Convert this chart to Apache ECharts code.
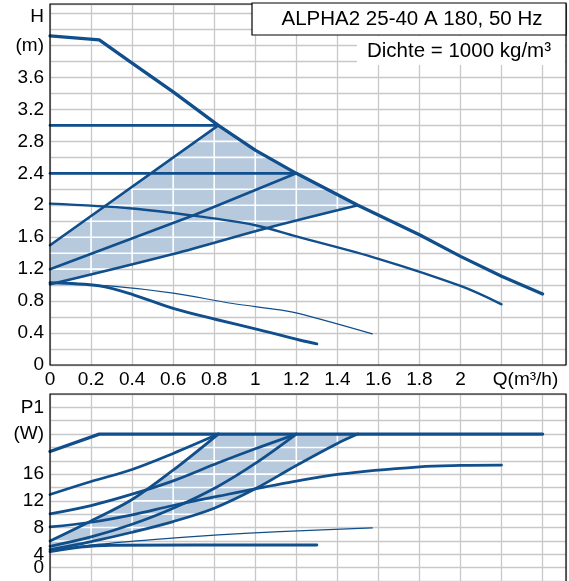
<!DOCTYPE html>
<html>
<head>
<meta charset="utf-8">
<script src="https://cdn.jsdelivr.net/npm/echarts@6/dist/echarts.min.js"></script>
<style>html,body{margin:0;padding:0;background:#fff}#c{width:569px;height:581px}</style>
</head>
<body>
<div id="c"></div>
<script>
// ---------- data ----------
const titleText = 'ALPHA2 25-40 A 180, 50 Hz';
const densityText = 'Dichte = 1000 kg/m³';

const qTickValues = [0, 0.2, 0.4, 0.6, 0.8, 1, 1.2, 1.4, 1.6, 1.8, 2, 2.2];
const qTickLabels = ['0', '0.2', '0.4', '0.6', '0.8', '1', '1.2', '1.4', '1.6', '1.8', '2', 'Q(m³/h)'];
const hTickValues = [0, 0.4, 0.8, 1.2, 1.6, 2, 2.4, 2.8, 3.2, 3.6, 4.0, 4.4];
const hTickLabels = ['0', '0.4', '0.8', '1.2', '1.6', '2', '2.4', '2.8', '3.2', '3.6', '(m)', 'H'];
const pTickValues = [0, 4, 8, 12, 16, 22, 26];
const pTickLabels = ['0', '4', '8', '12', '16', '(W)', 'P1'];

// head curves  [Q, H]
const hMax     = [[0,4.12],[0.24,4.07],[0.4,3.78],[0.6,3.42],[0.82,3.0],[1.0,2.69],[1.2,2.4],[1.5,2.0],[1.8,1.63],[2.0,1.36],[2.2,1.11],[2.4,0.89]];
const hCP30    = [[0,3.0],[0.82,3.0]];
const hCP24    = [[0,2.4],[1.2,2.4]];
const hProp15  = [[0,1.5],[0.82,3.0]];
const hProp12  = [[0,1.2],[0.7,1.875],[1.2,2.4]];
const hProp10  = [[0,1.01],[0.6,1.39],[1.05,1.71],[1.5,2.0]];
const hSpeed   = [[0,2.02],[0.4,1.96],[0.7,1.87],[1.0,1.75],[1.2,1.61],[1.6,1.33],[2.0,0.99],[2.2,0.76]];
const hLow     = [[0,1.03],[0.24,0.99],[0.41,0.876],[0.6,0.71],[0.81,0.57],[1.02,0.44],[1.22,0.31],[1.3,0.265]];
const hLowThin = [[0,1.03],[0.29,0.99],[0.6,0.9],[0.89,0.77],[1.12,0.69],[1.22,0.64],[1.57,0.39]];

// power curves [Q, P1]
const pMax     = [[0,19.4],[0.24,22],[2.4,22]];
const pCP30    = [[0,12.95],[0.2,14.9],[0.4,16.7],[0.6,19.1],[0.82,22]];
const pCP24    = [[0,10.06],[0.2,11.3],[0.4,13.0],[0.6,15.0],[0.82,17.7],[1.0,19.8],[1.2,22]];
const pProp15  = [[0,6.0],[0.2,9.0],[0.4,12.2],[0.6,16.6],[0.82,22]];
const pProp12  = [[0,5.2],[0.2,6.6],[0.4,8.5],[0.6,10.9],[0.82,14.2],[1.0,17.6],[1.2,22]];
const pProp10  = [[0,4.7],[0.2,5.9],[0.4,7.3],[0.6,8.9],[0.8,10.9],[1.0,13.8],[1.2,17.3],[1.4,20.6],[1.5,22]];
const pSpeed   = [[0,8.1],[0.2,8.8],[0.4,9.9],[0.6,11.3],[0.82,12.7],[1.12,14.5],[1.41,16.0],[1.8,17.1],[2.0,17.3],[2.2,17.35]];
const pLow     = [[0,4.4],[0.15,5.1],[0.3,5.35],[1.3,5.4]];
const pLowThin = [[0,4.6],[0.24,5.5],[0.5,6.2],[0.82,6.9],[1.12,7.4],[1.57,7.95]];

// AUTOADAPT areas built from the curves
const hShade = [].concat(hProp15, hMax.filter(p => p[0] > 0.82 && p[0] < 1.5), hProp10.slice().reverse());
const pShade = [].concat(pProp15, pProp10.slice().reverse());

// ---------- style ----------
const BLUE = '#114f8c';
const SHADE = '#b7c9dc';
const GRID = '#c8c8c8';
const FONT = 'Liberation Sans, Arial, sans-serif';
const FS = 19;
const G1 = {left: 50, top: 4, width: 516, height: 361};
const G2 = {left: 50, top: 394, width: 516, height: 189};
const Q_MAX = 2.514, H_MAX = 4.52, P_MAX = 28;
const Q_STEP = 0.2, H_STEP = 0.2, P_STEP = 2;

function stepsInside(max, step) {
  const out = [];
  for (let i = 1; i * step < max - 1e-6; i++) out.push(+(i * step).toFixed(6));
  return out;
}

function lookup(values, labels, v) {
  const i = values.findIndex(t => Math.abs(t - v) < 1e-6);
  return i >= 0 ? labels[i] : '';
}

function shadeRenderer(poly, xs, ys) {
  return function (params, api) {
    const pts = poly.map(p => api.coord(p));
    const children = [{type: 'polygon', shape: {points: pts}, style: {fill: SHADE}}];
    const n = pts.length;
    ys.forEach(yv => {
      const Y = api.coord([0, yv])[1];
      const xsI = [];
      for (let i = 0; i < n; i++) {
        const a = pts[i], b = pts[(i + 1) % n];
        if ((a[1] <= Y && b[1] > Y) || (b[1] <= Y && a[1] > Y)) {
          xsI.push(a[0] + (Y - a[1]) / (b[1] - a[1]) * (b[0] - a[0]));
        }
      }
      xsI.sort((u, v) => u - v);
      for (let k = 0; k + 1 < xsI.length; k += 2) {
        children.push({type: 'line', shape: {x1: xsI[k], y1: Y, x2: xsI[k + 1], y2: Y}, style: {stroke: '#fff', lineWidth: 1.6}});
      }
    });
    xs.forEach(xv => {
      const X = api.coord([xv, 0])[0];
      const ysI = [];
      for (let i = 0; i < n; i++) {
        const a = pts[i], b = pts[(i + 1) % n];
        if ((a[0] <= X && b[0] > X) || (b[0] <= X && a[0] > X)) {
          ysI.push(a[1] + (X - a[0]) / (b[0] - a[0]) * (b[1] - a[1]));
        }
      }
      ysI.sort((u, v) => u - v);
      for (let k = 0; k + 1 < ysI.length; k += 2) {
        children.push({type: 'line', shape: {x1: X, y1: ysI[k], x2: X, y2: ysI[k + 1]}, style: {stroke: '#fff', lineWidth: 1.6}});
      }
    });
    return {type: 'group', children};
  };
}

function line(idx, data, width, smooth) {
  return {
    type: 'line', xAxisIndex: idx, yAxisIndex: idx, data, showSymbol: false, symbol: 'none',
    smooth: smooth ? 0.35 : false, z: 3, silent: true,
    lineStyle: {color: BLUE, width, cap: 'round', join: 'round'}
  };
}

const labelBase = {color: '#000', fontFamily: FONT, fontSize: FS};

function gridRect(g) {
  return {type: 'rect', z: 100, silent: true, shape: {x: g.left, y: g.top, width: g.width, height: g.height},
          style: {fill: null, stroke: '#000', lineWidth: 1.2}};
}

const option = {
  animation: false,
  backgroundColor: '#fff',
  grid: [Object.assign({}, G1), Object.assign({}, G2)],
  xAxis: [
    {
      type: 'value', gridIndex: 0, min: 0, max: Q_MAX, interval: Q_STEP,
      axisLine: {show: false}, axisTick: {show: false},
      splitLine: {show: true, lineStyle: {color: GRID, width: 1.3}},
      axisLabel: Object.assign({}, labelBase, {
        margin: 5, showMaxLabel: false,
        formatter: v => {
          const t = lookup(qTickValues, qTickLabels, v);
          return t === 'Q(m³/h)' ? '{q|' + t + '}' : t;
        },
        rich: {q: Object.assign({}, labelBase, {padding: [0, 0, 0, 48]})}
      })
    },
    {
      type: 'value', gridIndex: 1, min: 0, max: Q_MAX, interval: Q_STEP,
      axisLine: {show: false}, axisTick: {show: false}, axisLabel: {show: false},
      splitLine: {show: true, lineStyle: {color: GRID, width: 1.3}}
    }
  ],
  yAxis: [
    {
      type: 'value', gridIndex: 0, min: 0, max: H_MAX, interval: H_STEP,
      axisLine: {show: false}, axisTick: {show: false},
      splitLine: {show: true, lineStyle: {color: GRID, width: 1.3}},
      axisLabel: Object.assign({}, labelBase, {
        margin: 6,
        formatter: v => {
          const t = lookup(hTickValues, hTickLabels, v);
          return t === 'H' ? '{h|H}' : t;
        },
        rich: {h: Object.assign({}, labelBase, {padding: [6, 0, 0, 0]})}
      })
    },
    {
      type: 'value', gridIndex: 1, min: 0, max: P_MAX, interval: P_STEP,
      axisLine: {show: false}, axisTick: {show: false},
      splitLine: {show: true, lineStyle: {color: GRID, width: 1.3}},
      axisLabel: Object.assign({}, labelBase, {
        margin: 6,
        formatter: v => {
          const t = lookup(pTickValues, pTickLabels, v);
          return t === '0' ? '{z|0}' : t;
        },
        rich: {z: Object.assign({}, labelBase, {padding: [0, 0, 26, 0]})}
      })
    }
  ],
  graphic: [
    gridRect(G1),
    gridRect(G2),
    {type: 'rect', z: 101, silent: true, shape: {x: 252, y: 3, width: 314, height: 32}, style: {fill: '#fff', stroke: '#000', lineWidth: 1.2}},
    {type: 'text', z: 102, silent: true, x: 412, y: 19, style: {text: titleText, fill: '#000', font: '20.5px ' + FONT, textAlign: 'center', textVerticalAlign: 'middle'}},
    {type: 'rect', z: 101, silent: true, shape: {x: 357, y: 36, width: 208, height: 29}, style: {fill: '#fff'}},
    {type: 'text', z: 102, silent: true, x: 551, y: 51, style: {text: densityText, fill: '#000', font: '20.5px ' + FONT, textAlign: 'right', textVerticalAlign: 'middle'}}
  ],
  series: [
    {type: 'custom', xAxisIndex: 0, yAxisIndex: 0, z: 1, silent: true, data: [0],
     renderItem: shadeRenderer(hShade, stepsInside(Q_MAX, Q_STEP), stepsInside(H_MAX, H_STEP))},
    {type: 'custom', xAxisIndex: 1, yAxisIndex: 1, z: 1, silent: true, data: [0],
     renderItem: shadeRenderer(pShade, stepsInside(Q_MAX, Q_STEP), stepsInside(P_MAX, P_STEP))},
    line(0, hMax, 3.3, false),
    line(0, hCP30, 2.7, false),
    line(0, hCP24, 2.7, false),
    line(0, hProp15, 2.6, false),
    line(0, hProp12, 2.6, false),
    line(0, hProp10, 2.6, true),
    line(0, hSpeed, 2.4, true),
    line(0, hLow, 2.9, true),
    line(0, hLowThin, 1.2, true),
    line(1, pMax, 3.3, false),
    line(1, pCP30, 2.8, true),
    line(1, pCP24, 2.8, true),
    line(1, pProp15, 2.8, true),
    line(1, pProp12, 2.8, true),
    line(1, pProp10, 2.8, true),
    line(1, pSpeed, 2.7, true),
    line(1, pLow, 2.9, true),
    line(1, pLowThin, 1.3, true)
  ]
};

const chart = echarts.init(document.getElementById('c'), null, {renderer: 'canvas'});
chart.setOption(option);
</script>
</body>
</html>
